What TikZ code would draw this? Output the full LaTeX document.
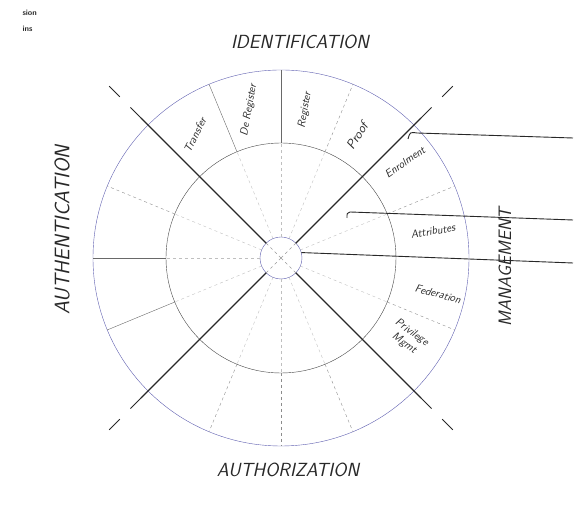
\documentclass[tikz,border=0pt]{standalone}
\usetikzlibrary{positioning}
\definecolor{penblue}{RGB}{96,96,176}
\definecolor{pencil}{RGB}{40,40,40}
\tikzset{
    sector/.style={font=\sffamily\itshape\fontsize{11}{11}\selectfont, text=pencil, inner sep=0pt},
    heading/.style={font=\sffamily\itshape\fontsize{19}{19}\selectfont, text=pencil, inner sep=0pt},
}
\begin{document}
\begin{tikzpicture}[x=1pt,y=1pt]
    \useasboundingbox (-281,-252) rectangle (303,258);
    \coordinate (c) at (0,0);
    % rings
    \draw[penblue, thin] (c) circle (188);
    \draw[pencil!85] (c) circle (115);
    \draw[penblue] (c) circle (21);
    % inner ring divisions
    \foreach \a in {22.5,67.5,90,112.5,157.5,180,202.5,247.5,270,292.5,337.5} {
        \draw[black!25, dashed] (\a:21) -- (\a:115);
    }
    % outer ring divisions
    \foreach \a in {90,112.5,180,202.5} \draw[pencil!70] (\a:115) -- (\a:188);
    \foreach \a in {67.5,22.5,-22.5,157.5,247.5,270,292.5} \draw[black!45, dashed] (\a:115) -- (\a:188);
    % diagonals
    \foreach \a in {45,135,225,315} {
        \draw[black!40, dashed] (c) -- (\a:21);
        \draw[pencil, line width=1.1pt] (\a:21) -- (\a:198);
        \draw[pencil, line width=1pt, dash pattern=on 15pt off 15pt] (\a:198) -- (\a:250);
    }
    % pointer lines
    \coordinate (p1) at (136,125);
    \coordinate (p1e) at (292,120);
    \coordinate (p2) at (69,46);
    \coordinate (p2e) at (292,38);
    \coordinate (p3) at (15:21);
    \coordinate (p3e) at (292,-5);
    \draw[pencil, line width=0.9pt] (p1e) -- (p1) .. controls (129,126) .. (127,119);
    \draw[pencil, line width=0.9pt] (p2e) -- (p2) .. controls (66,45) .. (66,40);
    \draw[pencil, line width=0.9pt] (p3) -- (p3e);
    % headings
    \node[heading] (ident) at (19,216) {IDENTIFICATION};
    \node[heading, rotate=90, font=\sffamily\itshape\fontsize{21}{21}\selectfont] (authn) at (-219,28) {AUTHENTICATION};
    \node[heading] (authz) at (7,-212) {AUTHORIZATION};
    \node[heading, rotate=90, font=\sffamily\itshape\fontsize{18}{18}\selectfont] (manage) at (224,-9) {MANAGEMENT};
    \node[font=\sffamily\bfseries\fontsize{8}{8}\selectfont, text=pencil, anchor=west] (cornerA) at (-262,245) {sion};
    \node[font=\sffamily\bfseries\fontsize{8}{8}\selectfont, text=pencil, below=3pt of cornerA.south west, anchor=north west] (cornerB) {ins};
    % sector labels
    \node[sector, rotate=63] (transfer) at (-86,123) {Transfer};
    \node[sector, rotate=80] (dereg) at (-32,148) {De Register};
    \node[sector, rotate=80] (reg) at (24,148) {Register};
    \node[sector, rotate=58, font=\sffamily\itshape\fontsize{13}{13}\selectfont] (proof) at (76,122) {Proof};
    \node[sector, rotate=35] (enrol) at (124,96) {Enrolment};
    \node[sector, rotate=10] (attrib) at (152,27) {Attributes};
    \node[sector, rotate=-15] (feder) at (157,-36) {Federation};
    \node[sector, rotate=-35, align=center] (privmgmt) at (127,-80) {Privilege\\[2pt]Mgmt};
\end{tikzpicture}
\end{document}
